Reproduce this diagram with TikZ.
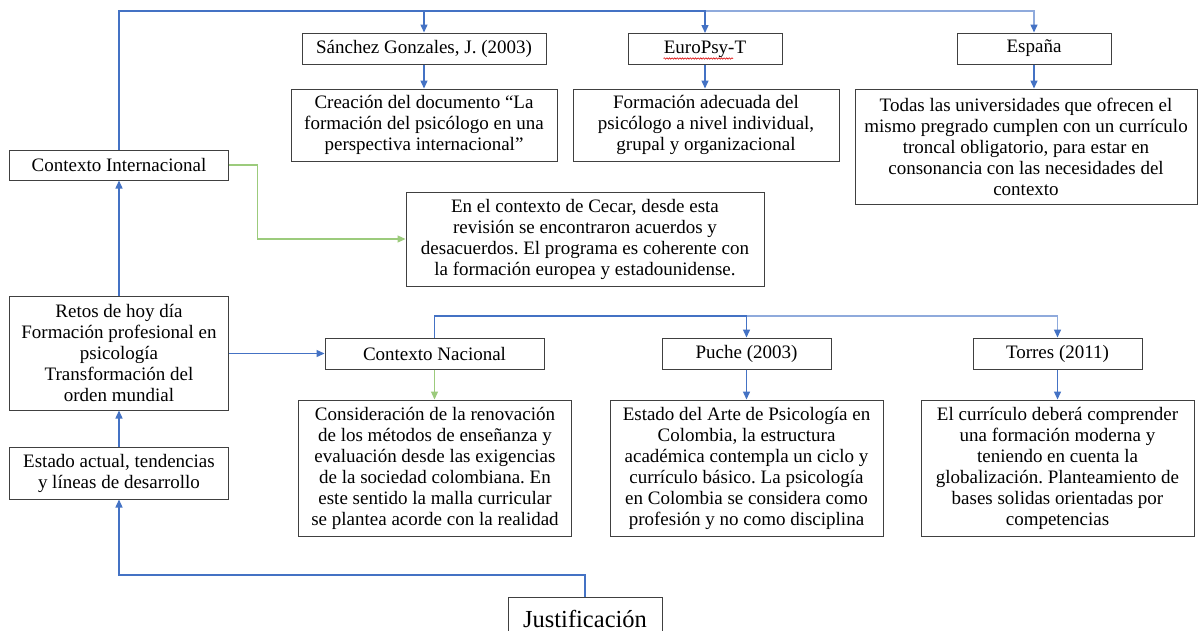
\documentclass[tikz,border=0pt]{standalone}
\usepackage{fontspec}
\setmainfont{Liberation Serif}
\usetikzlibrary{arrows.meta,decorations.pathmorphing}
\definecolor{lnblue}{HTML}{4472C4}
\definecolor{lnlight}{HTML}{8FAADC}
\definecolor{lngreen}{HTML}{9CCB7C}
\definecolor{boxline}{HTML}{404040}
\tikzset{
  box/.style={draw=boxline, line width=1pt, align=center, inner sep=0pt,
    font=\fontsize{19}{21}\selectfont, text=black},
  conn/.style={draw=lnblue, line width=1.4pt, -{Triangle[length=8pt,width=7pt,color=lnblue]}},
  connlight/.style={draw=lnlight, line width=1.4pt, -{Triangle[length=8pt,width=7pt,color=lnblue]}},
  conngreen/.style={draw=lngreen, line width=1.2pt, -{Triangle[length=8pt,width=7pt,color=lngreen]}}
}
\begin{document}
\frenchspacing
\begin{tikzpicture}[x=1pt,y=-1pt]
\useasboundingbox (0,0) rectangle (1201,630);
\clip (0,0) rectangle (1201,630);
\fill[white] (0,0) rectangle (1201,630);

% nodes
\node[box, minimum width=244pt, minimum height=31pt] (sanchez) at (424,48.5) {Sánchez Gonzales, J. (2003)};
\node[box, minimum width=266pt, minimum height=72pt] (creacion) at (424,125) {Creación del documento “La\\formación del psicólogo en una\\perspectiva internacional”};
\node[box, minimum width=154pt, minimum height=31pt] (europsy) at (705,49) {EuroPsy-T};
\node[box, minimum width=266pt, minimum height=72pt] (formacion) at (706,125) {Formación adecuada del\\psicólogo a nivel individual,\\grupal y organizacional};
\node[box, minimum width=154pt, minimum height=31pt] (espana) at (1034,48.5) {España};
\node[box, minimum width=342pt, minimum height=115pt] (todas) at (1026,146.5) {Todas las universidades que ofrecen el\\mismo pregrado cumplen con un currículo\\troncal obligatorio, para estar en\\consonancia con las necesidades del\\contexto};
\node[box, minimum width=219pt, minimum height=30pt] (ci) at (119,165) {Contexto Internacional};
\node[box, minimum width=358pt, minimum height=94pt] (cecar) at (585,239) {En el contexto de Cecar, desde esta\\revisión se encontraron acuerdos y\\desacuerdos. El programa es coherente con\\la formación europea y estadounidense.};
\node[box, minimum width=219pt, minimum height=114pt] (retos) at (119,353) {Retos de hoy día\\Formación profesional en\\psicología\\Transformación del\\orden mundial};
\node[box, minimum width=219pt, minimum height=52pt] (estado) at (119,473) {Estado actual, tendencias\\y líneas de desarrollo};
\node[box, minimum width=219pt, minimum height=31pt] (cn) at (434.5,353.5) {Contexto Nacional};
\node[box, minimum width=273.5pt, minimum height=136pt] (consid) at (435,468) {Consideración de la renovación\\de los métodos de enseñanza y\\evaluación desde las exigencias\\de la sociedad colombiana. En\\este sentido la malla curricular\\se plantea acorde con la realidad};
\node[box, minimum width=169pt, minimum height=31pt] (puche) at (746.5,353.5) {Puche (2003)};
\node[box, minimum width=273pt, minimum height=136pt] (arte) at (746.5,468) {Estado del Arte de Psicología en\\Colombia, la estructura\\académica contempla un ciclo y\\currículo básico. La psicología\\en Colombia se considera como\\profesión y no como disciplina};
\node[box, minimum width=169pt, minimum height=31pt] (torres) at (1057.5,353.5) {Torres (2011)};
\node[box, minimum width=273pt, minimum height=136pt] (curriculo) at (1057.5,468) {El currículo deberá comprender\\una formación moderna y\\teniendo en cuenta la\\globalización. Planteamiento de\\bases solidas orientadas por\\competencias};
\node[box, minimum width=154pt, minimum height=46pt, anchor=north] (just) at (585,597) {};
\node[font=\fontsize{24.5}{28}\selectfont, inner sep=0pt, anchor=base] (justtxt) at (585,627) {Justificación};

% spell-check underline
\draw[red!85!black, line width=0.6pt, decorate, decoration={snake, amplitude=0.7pt, segment length=2.6pt}] (663.5,58.5) -- (733,58.5);

% helper coordinates
\coordinate (topy) at (0,11);
\coordinate (midy) at (0,316);
\coordinate (boty) at (0,575);

% top branch
\draw[connlight] (ci.north) -- (ci.north |- topy) -| (espana.north);
\draw[conn] (ci.north) -- (ci.north |- topy) -| (europsy.north);
\draw[conn] (ci.north) -- (ci.north |- topy) -| (sanchez.north);
\draw[conn] (sanchez.south) -- (sanchez.south |- creacion.north);
\draw[conn] (europsy.south) -- (europsy.south |- formacion.north);
\draw[conn] (espana.south) -- (espana.south |- todas.north);

% green link
\draw[conngreen] (ci.east) -- ([xshift=28.5pt]ci.east) |- (cecar.west);

% vertical chain
\draw[conn] (retos.north) -- (ci.south);
\draw[conn] (estado.north) -- (retos.south);
\draw[conn] (just.north) -- (just.north |- boty) -| (estado.south);

% national branch
\draw[conn] (retos.east |- cn.west) -- (cn.west);
\draw[connlight] (cn.north) -- (cn.north |- midy) -| (torres.north);
\draw[conn] (cn.north) -- (cn.north |- midy) -| (puche.north);
\draw[conngreen] (cn.south) -- (cn.south |- consid.north);
\draw[conn] (puche.south) -- (arte.north);
\draw[conn] (torres.south) -- (curriculo.north);
\end{tikzpicture}
\end{document}
